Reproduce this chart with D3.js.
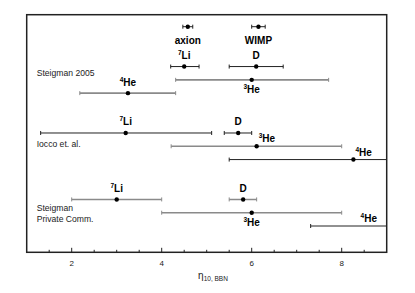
<!DOCTYPE html>
<html>
<head>
<meta charset="utf-8">
<script src="https://cdn.jsdelivr.net/npm/d3@7"></script>
<style>
  body { margin: 0; background: #fff; }
  svg { font-family: "Liberation Sans", Arial, sans-serif; }
</style>
</head>
<body>
<div id="chart"></div>
<script>
// Width and height
var w = 415;
var h = 293;

// data
var groupNames = ["Steigman 2005", "Iocco et. al.", "Steigman\nPrivate Comm."];
var groupRow = [3.5, 8.85, 14.05];

var sup = ["", "", "7", "", "3", "4", "7", "", "3", "4", "7", "", "3", "4"];
var species = ["axion", "WIMP", "Li", "D", "He", "He", "Li", "D", "He", "He", "Li", "D", "He", "He"];
var row = [0, 0, 3, 3, 4, 5, 8, 8, 9, 10, 13, 13, 14, 15];
var central = [4.58, 6.15, 4.50, 6.10, 6.00, 3.25, 3.20, 5.70, 6.11, 8.26, 3.00, 5.81, 6.00, 9.60];
var lower = [4.47, 6.00, 4.20, 5.50, 4.31, 2.18, 1.31, 5.39, 4.21, 5.50, 2.00, 5.50, 4.00, 7.31];
var upper = [4.69, 6.30, 4.83, 6.70, 7.71, 4.31, 5.11, 6.00, 8.00, 11.0, 4.00, 6.11, 8.00, 12.0];
var gray = [0, 0, 0, 0, 1, 1, 0, 0, 1, 0, 1, 1, 1, 0];
var labelPos = ["below", "below", "above", "above", "below", "above", "above", "above", "right", "right", "above", "above", "below", "right"];

var xMajor = [2, 4, 6, 8];
var xMinor = d3.range(1.5, 9, 0.5);

var data = species.map(function(s, i) {
  return { sup: sup[i], name: s, row: row[i], c: central[i], lo: lower[i], hi: upper[i], gray: gray[i], pos: labelPos[i] };
});

// frame edges (note: "top" is taken by window.top)
var fLeft = 26.7, fRight = 386.7, fTop = 14.7, fBottom = 252.3;

var x = d3.scaleLinear().domain([1, 9]).range([fLeft, fRight]);
var y = d3.scaleLinear().domain([0, 15]).range([26.7, 226]);

var svg = d3.select("#chart").append("svg")
  .attr("width", w)
  .attr("height", h);

svg.append("clipPath").attr("id", "clip")
  .append("rect")
  .attr("x", fLeft).attr("y", fTop)
  .attr("width", fRight - fLeft).attr("height", fBottom - fTop);

var plot = svg.append("g").attr("clip-path", "url(#clip)");

// error bars
var bars = plot.selectAll("g.bar")
  .data(data)
  .enter()
  .append("g")
  .attr("class", "bar")
  .style("stroke", function(d) { return d.gray ? "#8a8a8a" : "#222"; })
  .style("stroke-width", function(d) { return d.gray ? 1.6 : 1; });

bars.append("line")
  .attr("x1", function(d) { return x(d.lo); })
  .attr("x2", function(d) { return x(d.hi); })
  .attr("y1", function(d) { return y(d.row); })
  .attr("y2", function(d) { return y(d.row); });

bars.append("line")
  .attr("x1", function(d) { return x(d.lo); })
  .attr("x2", function(d) { return x(d.lo); })
  .attr("y1", function(d) { return y(d.row) - 2; })
  .attr("y2", function(d) { return y(d.row) + 2; })
  .style("stroke-width", 1);

bars.append("line")
  .attr("x1", function(d) { return x(d.hi); })
  .attr("x2", function(d) { return x(d.hi); })
  .attr("y1", function(d) { return y(d.row) - 2; })
  .attr("y2", function(d) { return y(d.row) + 2; })
  .style("stroke-width", 1);

plot.selectAll("circle")
  .data(data)
  .enter()
  .append("circle")
  .attr("cx", function(d) { return x(d.c); })
  .attr("cy", function(d) { return y(d.row); })
  .attr("r", 2.2)
  .style("fill", "#000");

// species labels
var labels = svg.selectAll("text.species")
  .data(data)
  .enter()
  .append("text")
  .attr("class", "species")
  .style("font-weight", "bold")
  .style("font-size", "10px")
  .attr("text-anchor", function(d) { return d.pos == "right" ? "start" : "middle"; })
  .attr("x", function(d) {
    if (d.pos == "right") return Math.min(x(d.c) + 2, x(8.42));
    return x(d.c);
  })
  .attr("y", function(d) {
    if (d.pos == "below") return y(d.row) + (d.sup ? 13.5 : 17);
    if (d.pos == "right") return y(d.row) - 4;
    return y(d.row) - 7.5;
  });

labels.filter(function(d) { return d.sup; })
  .append("tspan")
  .attr("dy", -4)
  .style("font-size", "6.5px")
  .text(function(d) { return d.sup; });

labels.append("tspan")
  .attr("dy", function(d) { return d.sup ? 4 : 0; })
  .text(function(d) { return d.name; });

// group labels, centred on their row
groupNames.forEach(function(g, i) {
  var lines = g.split("\n");
  var t = svg.append("text")
    .attr("x", 36.7)
    .attr("y", y(groupRow[i]) - (lines.length - 1) * 5.5 + 3)
    .style("font-size", "8.6px")
    .style("fill", "#222");
  lines.forEach(function(l, j) {
    t.append("tspan")
      .attr("x", 36.7)
      .attr("dy", j ? 11 : 0)
      .text(l);
  });
});

// frame
svg.append("rect")
  .attr("x", fLeft).attr("y", fTop)
  .attr("width", fRight - fLeft).attr("height", fBottom - fTop)
  .style("fill", "none")
  .style("stroke", "#222")
  .style("stroke-width", 1.5);

// ticks pointing inward
svg.selectAll("line.minor")
  .data(xMinor)
  .enter()
  .append("line")
  .attr("class", "minor")
  .attr("x1", function(d) { return x(d); })
  .attr("x2", function(d) { return x(d); })
  .attr("y1", fBottom)
  .attr("y2", function(d) { return xMajor.indexOf(d) >= 0 ? fBottom - 4.5 : fBottom - 2.5; })
  .style("stroke", "#222")
  .style("stroke-width", 1);

svg.selectAll("text.tick")
  .data(xMajor)
  .enter()
  .append("text")
  .attr("class", "tick")
  .attr("x", function(d) { return x(d); })
  .attr("y", fBottom + 13.5)
  .attr("text-anchor", "middle")
  .style("font-size", "8px")
  .style("fill", "#222")
  .text(function(d) { return d; });

// axis title
var title = svg.append("text")
  .attr("x", 213)
  .attr("y", 279)
  .attr("text-anchor", "middle")
  .style("fill", "#222");
title.append("tspan").style("font-size", "10px").text("η");
title.append("tspan").attr("dy", 2).style("font-size", "6.5px").text("10, BBN");
</script>
</body>
</html>
